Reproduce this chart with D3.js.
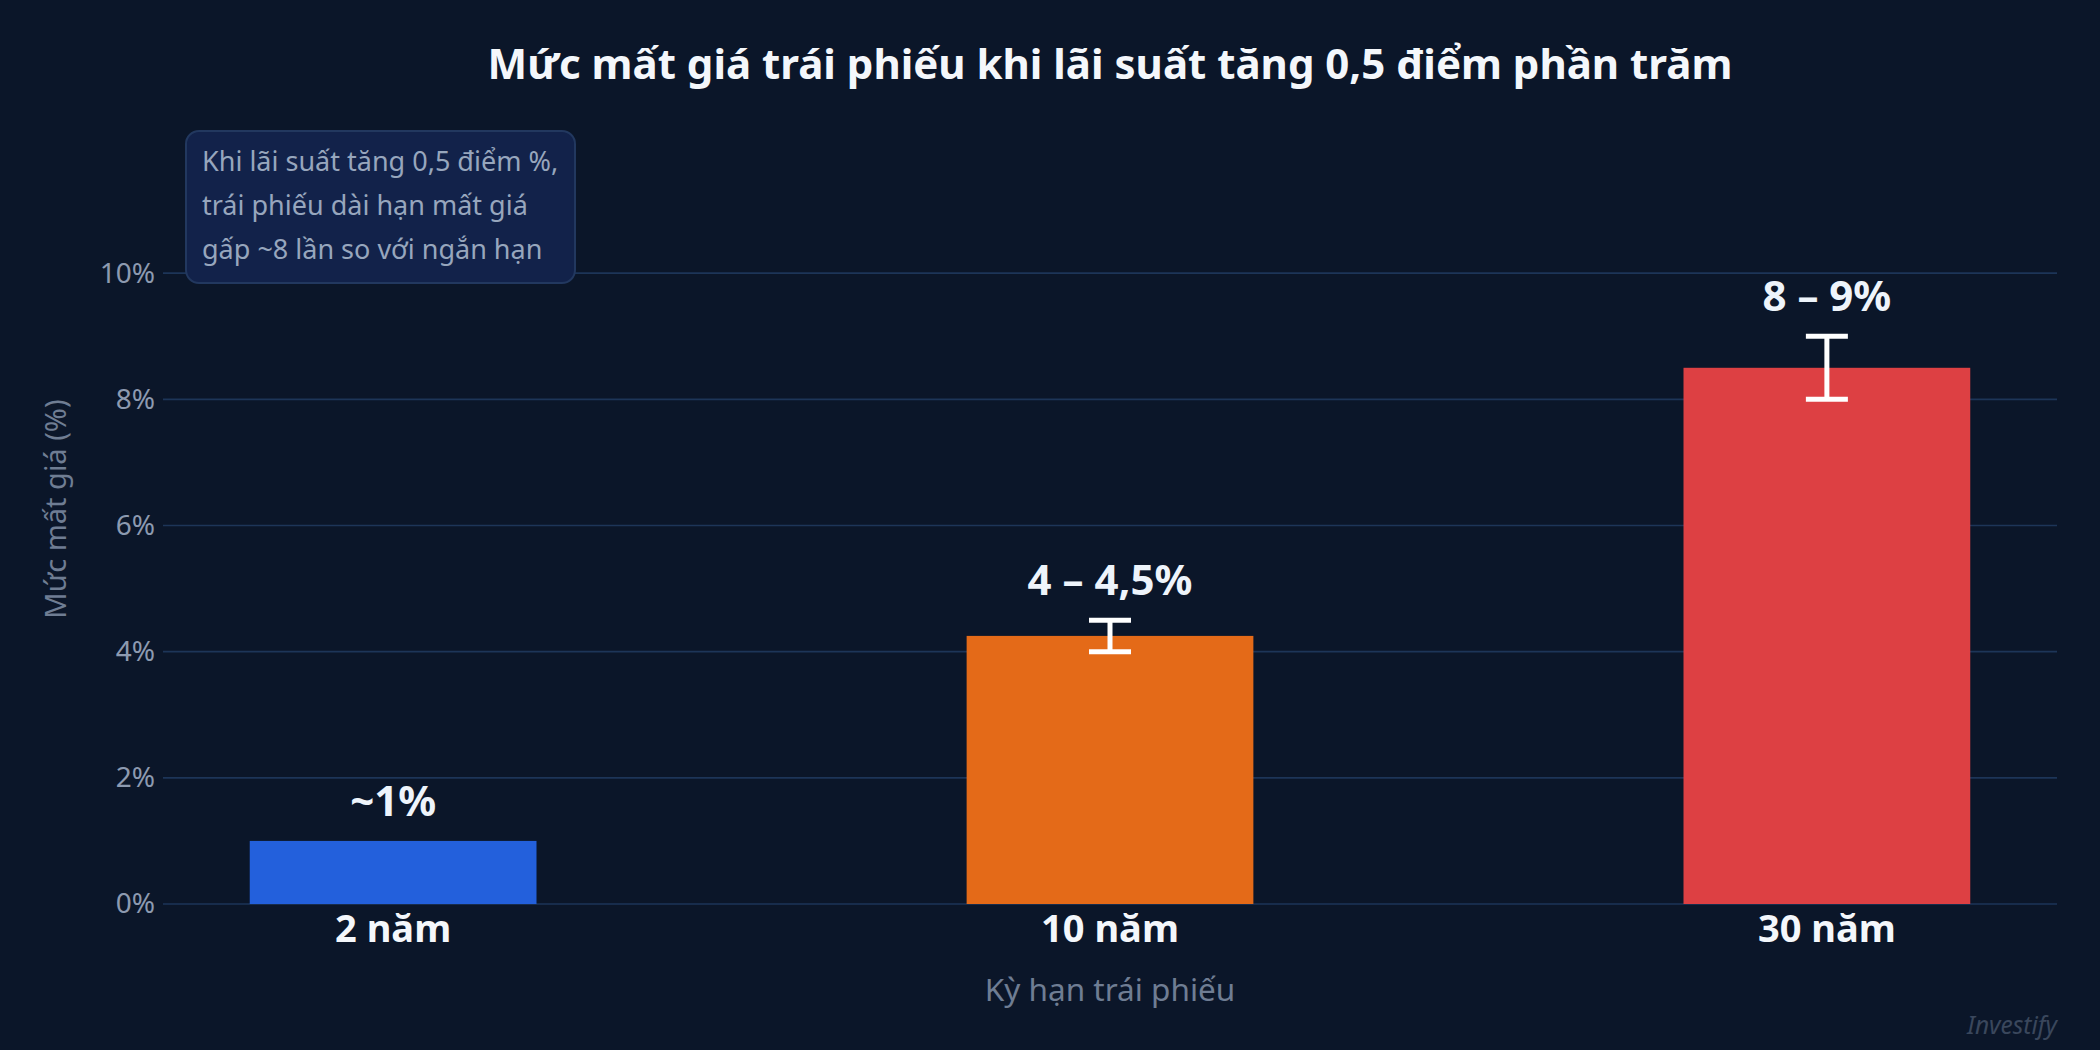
<!DOCTYPE html>
<html><head><meta charset="utf-8">
<script src="https://cdn.jsdelivr.net/npm/d3@7"></script>
<style>
html,body{margin:0;padding:0;background:#0b1629;}
svg{display:block;font-family:"Noto Sans",sans-serif;}
</style></head>
<body><svg id="c" width="2100" height="1050"></svg>
<script>
const categories = ["2 năm", "10 năm", "30 năm"];
const values = [1.0, 4.25, 8.5];
const lows = [null, 4.0, 8.0];
const highs = [null, 4.5, 9.0];
const valueLabels = ["~1%", "4 – 4,5%", "8 – 9%"];
const barColors = ["#2360dc", "#e46a18", "#dd4043"];
const yTicks = [0, 2, 4, 6, 8, 10];
const titleText = "Mức mất giá trái phiếu khi lãi suất tăng 0,5 điểm phần trăm";
const yTitle = "Mức mất giá (%)";
const xTitle = "Kỳ hạn trái phiếu";
const noteLines = ["Khi lãi suất tăng 0,5 điểm %,", "trái phiếu dài hạn mất giá", "gấp ~8 lần so với ngắn hạn"];
const watermark = "Investify";

const svg = d3.select("#c");
const W = 2100, H = 1050;
svg.append("rect").attr("width", W).attr("height", H).attr("fill", "#0b1629");

const left = 163, right = 2057;
const x = d3.scaleBand().domain(categories).range([left, right]).paddingInner(0.6).paddingOuter(0.121);
const y = d3.scaleLinear().domain([0, 12]).range([904, 147]);

// gridlines
const grid = svg.append("g").attr("class", "grid");
grid.selectAll("line").data(yTicks).join("line")
  .attr("x1", left).attr("x2", right)
  .attr("y1", d => y(d)).attr("y2", d => y(d))
  .attr("stroke", "#1d3558").attr("stroke-width", 1.6);

// y axis
const yAxis = d3.axisLeft(y).tickValues(yTicks).tickFormat(d => d + "%").tickSize(0).tickPadding(8);
const yg = svg.append("g").attr("transform", `translate(${left},0)`).call(yAxis);
yg.select(".domain").remove();
yg.selectAll("text").attr("fill", "#8d9ab0").attr("font-size", 28).attr("font-family", "Noto Sans");

// bars
svg.append("g").selectAll("rect").data(categories).join("rect")
  .attr("x", d => x(d)).attr("width", x.bandwidth())
  .attr("y", (d, i) => y(values[i])).attr("height", (d, i) => y(0) - y(values[i]))
  .attr("fill", (d, i) => barColors[i]);

// error bars
const eb = svg.append("g").attr("stroke", "#ffffff").attr("stroke-width", 5);
categories.forEach((c, i) => {
  if (lows[i] == null) return;
  const cx = x(c) + x.bandwidth() / 2;
  eb.append("line").attr("x1", cx).attr("x2", cx).attr("y1", y(lows[i])).attr("y2", y(highs[i]));
  [lows[i], highs[i]].forEach(v => eb.append("line").attr("x1", cx - 21).attr("x2", cx + 21).attr("y1", y(v)).attr("y2", y(v)));
});

// value labels
svg.append("g").selectAll("text").data(categories).join("text")
  .attr("x", d => x(d) + x.bandwidth() / 2)
  .attr("y", (d, i) => y(Math.max(values[i], highs[i] == null ? 0 : highs[i])) - 25)
  .attr("text-anchor", "middle").attr("font-size", 42).attr("font-weight", 700)
  .attr("fill", "#eef4fb").text((d, i) => valueLabels[i]);

// x axis category labels
const xAxis = d3.axisBottom(x).tickSize(0).tickPadding(11);
const xg = svg.append("g").attr("transform", `translate(0,${y(0)})`).call(xAxis);
xg.select(".domain").remove();
xg.selectAll("text").attr("fill", "#f4f7fb").attr("font-size", 38).attr("font-weight", 700).attr("font-family", "Noto Sans");

// titles
svg.append("text").attr("x", 1110).attr("y", 79).attr("text-anchor", "middle")
  .attr("font-size", 42).attr("font-weight", 700).attr("fill", "#f4f7fb").text(titleText);
svg.append("text").attr("x", 1110).attr("y", 1001).attr("text-anchor", "middle")
  .attr("font-size", 31.5).attr("fill", "#6f7d93").text(xTitle);
svg.append("text").attr("transform", "translate(66,509) rotate(-90)").attr("text-anchor", "middle")
  .attr("font-size", 29).attr("fill", "#6f7d93").text(yTitle);

// annotation box
const note = svg.append("g");
note.append("rect").attr("x", 186).attr("y", 131).attr("width", 389).attr("height", 152).attr("rx", 13)
  .attr("fill", "#12224a").attr("stroke", "#22385f").attr("stroke-width", 2);
note.append("text").attr("font-size", 27).attr("fill", "#97a6bd")
  .selectAll("tspan").data(noteLines).join("tspan")
  .attr("x", 202).attr("y", (d, i) => 171 + i * 44).text(d => d);

// watermark
svg.append("text").attr("x", 2057).attr("y", 1034).attr("text-anchor", "end")
  .attr("font-size", 24.5).attr("font-style", "italic").attr("fill", "#3a475c").text(watermark);
</script></body></html>
